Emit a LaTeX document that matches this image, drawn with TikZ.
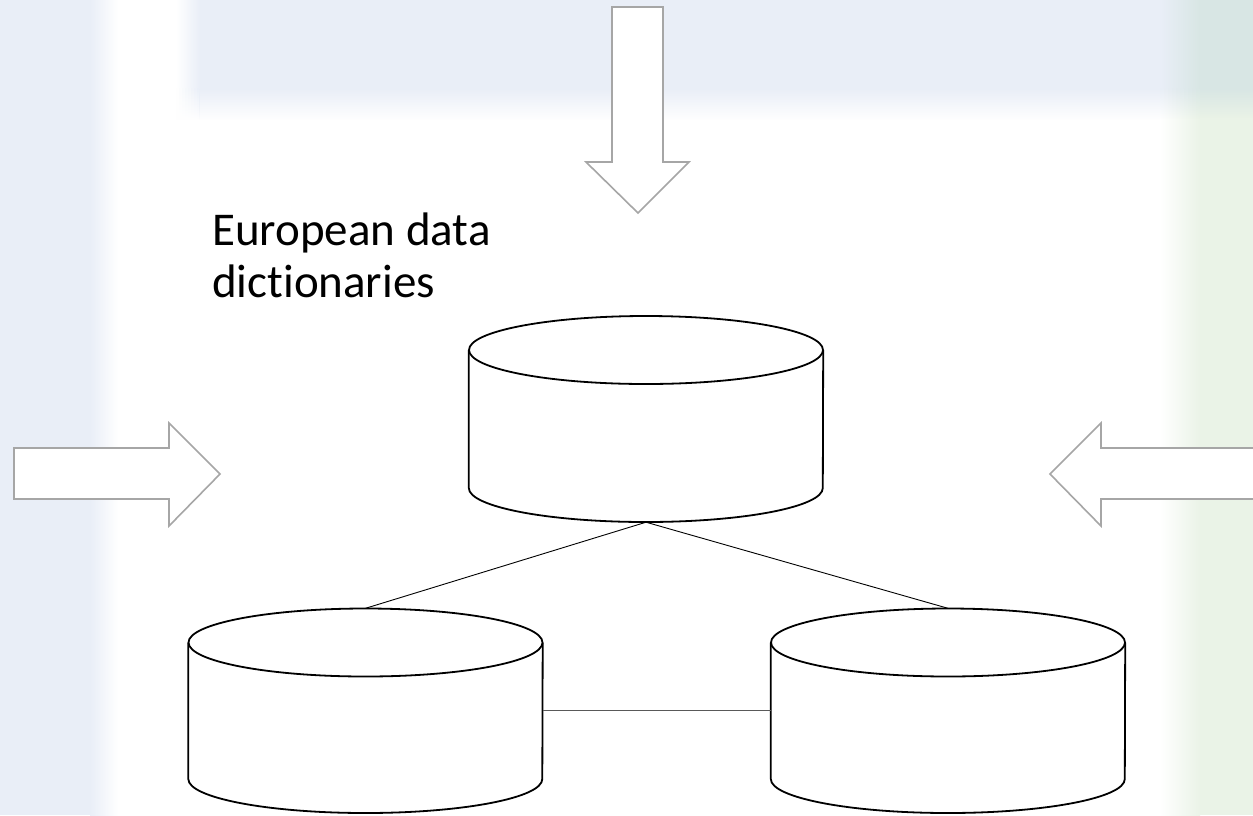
\documentclass[tikz,border=0pt]{standalone}
\usepackage{fontspec}
\usetikzlibrary{fadings}
\newfontfamily\carlito[Ligatures=NoCommon]{Carlito}
\definecolor{bandblue}{HTML}{E9EEF7}
\definecolor{bandteal}{HTML}{D8E6E4}
\definecolor{bandgreen}{HTML}{EAF3E7}
\definecolor{arrowgray}{HTML}{A6A6A6}
\definecolor{linkgray}{HTML}{595959}
\tikzfading[name=fadedown, top color=transparent!0, bottom color=transparent!100]
% cylinder: name, centre x, y of top ellipse centre, y of bottom ellipse centre
\newcommand\dbcylinder[4]{%
  \node[inner sep=0pt, minimum width=354pt, minimum height={#4-#3+68}] (#1) at (#2,{(#3+#4)/2}) {};
  \path[dbbody] (#1.west |- 0,#3) -- (#1.west |- 0,#4)
    arc[start angle=180, end angle=0, x radius=177, y radius=34]
    -- (#1.east |- 0,#3);
  \path[dbbody] (#2,#3) ellipse[x radius=177, y radius=34];
}
\begin{document}
\begin{tikzpicture}[x=1pt, y=-1pt,
  blockarrow/.style={draw=arrowgray, fill=white, line width=1.6pt, line join=miter},
  dbbody/.style={draw=black, fill=white, line width=1.8pt},
  link/.style={draw=black, line width=0.9pt},
  sidelink/.style={draw=linkgray, line width=1pt},
  softedge/.style={path fading=fadedown},
  caption/.style={font=\carlito\fontsize{47}{52}\selectfont, align=left, inner sep=0pt, anchor=north west}]
\useasboundingbox (0,0) rectangle (1253,815);
\begin{scope}
\clip (0,0) rectangle (1253,815);
% page background
\fill[white] (0,0) rectangle (1253,815);
% left strip
\fill[bandblue] (0,0) rectangle (90,815);
\fill[left color=bandblue, right color=white] (90,0) rectangle (118,815);
% right strip
\fill[bandgreen] (1200,0) rectangle (1253,815);
\fill[left color=white, right color=bandgreen] (1160,0) rectangle (1200,815);
% top band
\fill[left color=white, right color=bandblue] (176,0) rectangle (200,88);
\fill[bandblue] (200,0) rectangle (1160,88);
\fill[left color=bandblue, right color=bandteal] (1160,0) rectangle (1200,88);
\fill[bandteal] (1200,0) rectangle (1253,88);
% soft lower edge of the top band, built from flat slices
\fill[bandblue, softedge] (199.6,88) rectangle (1160.4,120);
\fill[bandteal, softedge] (1199.6,88) rectangle (1253,118);
\foreach \i [evaluate=\i as \p using (\i+0.5)*12.5] in {0,...,7}
  \fill[bandblue!\p!white, softedge] ({176+3*\i},88) rectangle ({179.3+3*\i},120);
\foreach \i [evaluate=\i as \p using (\i+0.5)*10] in {0,...,9}
  \fill[bandteal!\p!bandblue, softedge] ({1160+4*\i},88) rectangle ({1164.3+4*\i},119);

% block arrows pointing inwards
\path[blockarrow] (612,7) -- (663,7) -- (663,162) -- (689,162) -- (638,213)
  -- (586,162) -- (612,162) -- cycle;
\path[blockarrow] (14,448) -- (169,448) -- (169,423) -- (220,474) -- (169,526)
  -- (169,499) -- (14,499) -- cycle;
\path[blockarrow] (1262,448) -- (1101,448) -- (1101,423) -- (1050,474) -- (1101,526)
  -- (1101,499) -- (1262,499);
\end{scope}

% caption
\node[caption] (caption) at (212,213) {European data\\dictionaries};

% databases
\dbcylinder{central}{646}{350}{488}
\dbcylinder{westdb}{365.5}{642.5}{779}
\dbcylinder{eastdb}{948}{642.5}{779}

% links between the databases
\draw[link] (central.south) -- (westdb.north);
\draw[link] (central.south) -- (eastdb.north);
\draw[sidelink] (westdb.east) -- (eastdb.west);
\end{tikzpicture}
\end{document}
